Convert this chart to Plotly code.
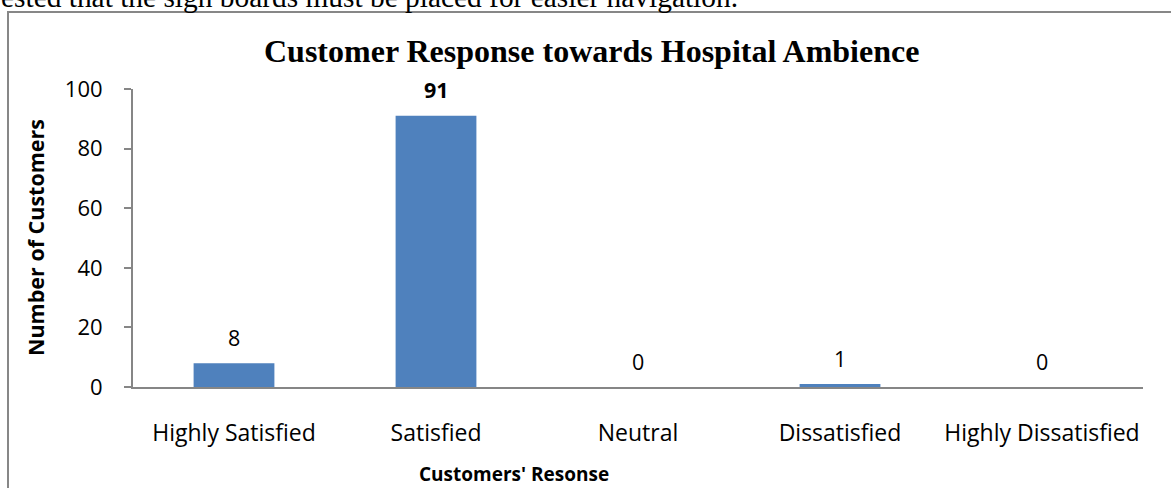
import plotly.graph_objects as go

categories = ["Highly Satisfied", "Satisfied", "Neutral", "Dissatisfied", "Highly Dissatisfied"]
values = [8, 91, 0, 1, 0]
label_bold = [False, True, False, False, False]
y_ticks = [0, 20, 40, 60, 80, 100]

SANS = "'Open Sans', sans-serif"
SERIF = "'Liberation Serif', 'Times New Roman', serif"

W, H = 1171, 488
L, R, T, B = 133, 28, 89, 101
PW, PH = W - L - R, H - T - B


def px(x):
    return (x - L) / PW


def py(y):
    return (H - B - y) / PH


fig = go.Figure()
fig.add_trace(go.Bar(
    x=categories, y=values, width=0.4,
    marker=dict(color="#4F81BD", line=dict(color="#4F81BD", width=0)),
    hoverinfo="skip",
))

for c, v, b in zip(categories, values, label_bold):
    fig.add_annotation(
        x=c, y=v, xref="x", yref="y", yanchor="middle", yshift=26,
        text=f"<b>{v}</b>" if b else str(v), showarrow=False,
        font=dict(family=SANS, size=21.5, color="#000000"),
    )

fig.add_annotation(
    xref="paper", yref="paper", x=px(591), y=py(51), yanchor="middle", xanchor="center",
    text="<b>Customer Response towards Hospital Ambience</b>", showarrow=False,
    font=dict(family=SERIF, size=32, color="#000000"),
)
fig.add_annotation(
    xref="paper", yref="paper", x=px(514), y=py(474), yanchor="middle", xanchor="center",
    text="<b>Customers' Resonse</b>", showarrow=False,
    font=dict(family=SANS, size=19, color="#000000"),
)
fig.add_annotation(
    xref="paper", yref="paper", x=px(35), y=py(238), textangle=-90,
    xanchor="center", yanchor="middle",
    text="<b>Number of Customers</b>", showarrow=False,
    font=dict(family=SANS, size=21.5, color="#000000"),
)
# fragment of surrounding document text, cut off at the top
fig.add_annotation(
    xref="paper", yref="paper", x=px(-1), xanchor="left", y=py(15), yanchor="bottom",
    text="ested that the sign boards must be placed for easier navigation.", showarrow=False,
    font=dict(family=SERIF, size=29.4, color="#000000"),
)

# chart frame
fig.add_shape(type="rect", xref="paper", yref="paper",
              x0=px(8), x1=px(W + 20), y0=py(H + 20), y1=py(12),
              line=dict(color="#878787", width=2), fillcolor="rgba(0,0,0,0)", layer="below")

fig.update_layout(
    width=W, height=H,
    margin=dict(l=L, r=R, t=T, b=B, autoexpand=False),
    paper_bgcolor="white", plot_bgcolor="white",
    showlegend=False,
    font=dict(family=SANS, color="#000000"),
)
fig.update_xaxes(
    showline=True, linecolor="#868686", linewidth=2, ticks="",
    tickfont=dict(family=SANS, size=23, color="#000000"),
    ticklabelstandoff=24, showgrid=False, zeroline=False,
)
fig.update_yaxes(
    range=[0, 100], tickvals=y_ticks, showline=True, linecolor="#868686", linewidth=2,
    ticks="outside", ticklen=7, tickcolor="#868686", tickwidth=2,
    tickfont=dict(family=SANS, size=22, color="#000000"),
    showgrid=False, zeroline=False, ticklabelstandoff=17,
)

fig.write_html(
    "out.html",
    config={"displayModeBar": False},
    post_script="document.body.style.margin='0px';document.body.style.overflow='hidden';",
)
